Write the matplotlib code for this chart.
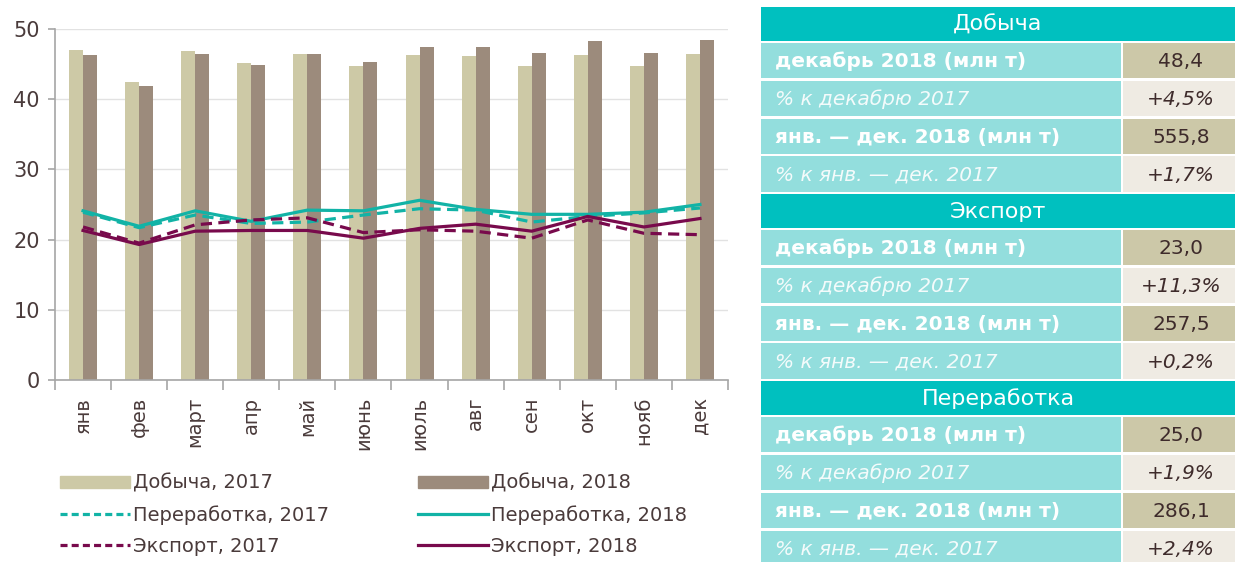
import numpy as np
import matplotlib
matplotlib.use("Agg")
import matplotlib.pyplot as plt
from matplotlib.patches import Rectangle, Patch
from matplotlib.lines import Line2D

# =========================
# data
# =========================
months = ["янв", "фев", "март", "апр", "май", "июнь", "июль", "авг", "сен", "окт", "нояб", "дек"]
dob_2017 = [47.0, 42.5, 46.8, 45.1, 46.4, 44.8, 46.3, 46.2, 44.7, 46.3, 44.8, 46.4]
dob_2018 = [46.3, 41.9, 46.5, 44.9, 46.5, 45.3, 47.5, 47.5, 46.6, 48.3, 46.6, 48.4]
per_2017 = [23.9, 21.7, 23.5, 22.3, 22.5, 23.5, 24.4, 24.2, 22.5, 23.3, 23.8, 24.5]
per_2018 = [24.1, 21.9, 24.1, 22.6, 24.2, 24.1, 25.6, 24.3, 23.6, 23.6, 23.9, 25.0]
exp_2017 = [21.8, 19.5, 22.1, 22.8, 23.1, 21.0, 21.4, 21.2, 20.2, 22.8, 20.9, 20.7]
exp_2018 = [21.3, 19.3, 21.2, 21.3, 21.3, 20.2, 21.6, 22.2, 21.2, 23.3, 21.8, 23.0]

sections = ["Добыча", "Экспорт", "Переработка"]
row_labels = ["декабрь 2018 (млн т)", "% к декабрю 2017",
              "янв. — дек. 2018 (млн т)", "% к янв. — дек. 2017"]
section_values = [
    ["48,4", "+4,5%", "555,8", "+1,7%"],
    ["23,0", "+11,3%", "257,5", "+0,2%"],
    ["25,0", "+1,9%", "286,1", "+2,4%"],
]

# =========================
# style
# =========================
c17 = "#cdc9a6"
c18 = "#9c8b7c"
teal = "#12b3a6"
maroon = "#780a4c"
txt = "#4a3b3b"
fonts = ["Liberation Sans Narrow", "DejaVu Sans"]
plt.rcParams["font.family"] = fonts

W, H = 1235, 562
fig = plt.figure(figsize=(W / 100, H / 100), dpi=100)

# =========================
# chart
# =========================
ax = fig.add_axes([55 / W, 1 - 380 / H, (728 - 55) / W, (380 - 29) / H])
x = np.arange(len(months))
bw = 0.25
ax.bar(x - bw / 2, dob_2017, width=bw, color=c17, zorder=2)
ax.bar(x + bw / 2, dob_2018, width=bw, color=c18, zorder=2)
lw = 2.3
ax.plot(x, per_2017, color=teal, lw=lw, dashes=(3.5, 2), zorder=3)
ax.plot(x, per_2018, color=teal, lw=lw, zorder=3)
ax.plot(x, exp_2017, color=maroon, lw=lw, dashes=(3.5, 2), zorder=3)
ax.plot(x, exp_2018, color=maroon, lw=lw, zorder=3)

ax.set_xlim(-0.5, len(months) - 0.5)
ax.set_ylim(0, 50)
ax.set_yticks(range(0, 51, 10))
ax.grid(axis="y", color="#e2e2e2", lw=1, zorder=0)
for s in ["top", "right"]:
    ax.spines[s].set_visible(False)
for s in ["left", "bottom"]:
    ax.spines[s].set_color("#a6a6a6")
    ax.spines[s].set_linewidth(1.2)
ax.set_xticks(x)
ax.set_xticklabels(months, rotation=90, fontsize=14, color=txt)
ax.set_xticks(np.arange(-0.5, len(months)), minor=True)
ax.tick_params(axis="x", which="major", length=0, pad=12)
ax.tick_params(axis="x", which="minor", length=7, color="#a6a6a6", width=1.2)
ax.tick_params(axis="y", length=5, color="#a6a6a6", width=1.2, labelsize=15,
               labelcolor=txt, pad=6)

# legend
h1 = [Patch(color=c17), Line2D([], [], color=teal, lw=lw, dashes=(2.2, 1.3)),
      Line2D([], [], color=maroon, lw=lw, dashes=(2.2, 1.3))]
h2 = [Patch(color=c18), Line2D([], [], color=teal, lw=lw),
      Line2D([], [], color=maroon, lw=lw)]
l1 = ["Добыча, 2017", "Переработка, 2017", "Экспорт, 2017"]
l2 = ["Добыча, 2018", "Переработка, 2018", "Экспорт, 2018"]
for hs, ls, xl in [(h1, l1, 52), (h2, l2, 410)]:
    fig.legend(hs, ls, loc="upper left", bbox_to_anchor=(xl / W, 1 - 466 / H),
               frameon=False, fontsize=14, labelcolor=txt, handlelength=3.6,
               handletextpad=0.15, labelspacing=0.62, handleheight=0.55,
               borderaxespad=0)

# =========================
# table
# =========================
tx = fig.add_axes([0, 0, 1, 1], zorder=-1)
tx.set_xlim(0, W)
tx.set_ylim(H, 0)
tx.axis("off")

x0, xs, x1 = 761, 1122, 1240
hh, rh = 35.5, 37.9
y = 6
gap = 1.2
for si, name in enumerate(sections):
    tx.add_patch(Rectangle((x0, y + gap / 2), x1 - x0, hh - gap, color="#00c0bf", lw=0))
    tx.text((x0 + 1235) / 2, y + hh / 2 + 1, name, ha="center", va="center",
            color="white", fontsize=16, family=["DejaVu Sans"])
    y += hh
    for ri, lab in enumerate(row_labels):
        italic = ri % 2 == 1
        tx.add_patch(Rectangle((x0, y + gap), xs - x0 - gap, rh - 2 * gap,
                               color="#93dedd", lw=0))
        tx.add_patch(Rectangle((xs + gap, y + gap), x1 - xs, rh - 2 * gap,
                               color="#efebe3" if italic else "#ccc8a8", lw=0))
        tx.text(775, y + rh / 2 + 1, lab, ha="left", va="center",
                color="#f4fbfb" if italic else "white", fontsize=14.5,
                style="italic" if italic else "normal",
                weight="normal" if italic else "bold", family=["DejaVu Sans"])
        tx.text(1181, y + rh / 2 + 1, section_values[si][ri], ha="center", va="center",
                color="#3e2b2b", fontsize=14.5, style="italic" if italic else "normal",
                family=["DejaVu Sans"])
        y += rh

fig.savefig("out.png", dpi=100, facecolor="white")
